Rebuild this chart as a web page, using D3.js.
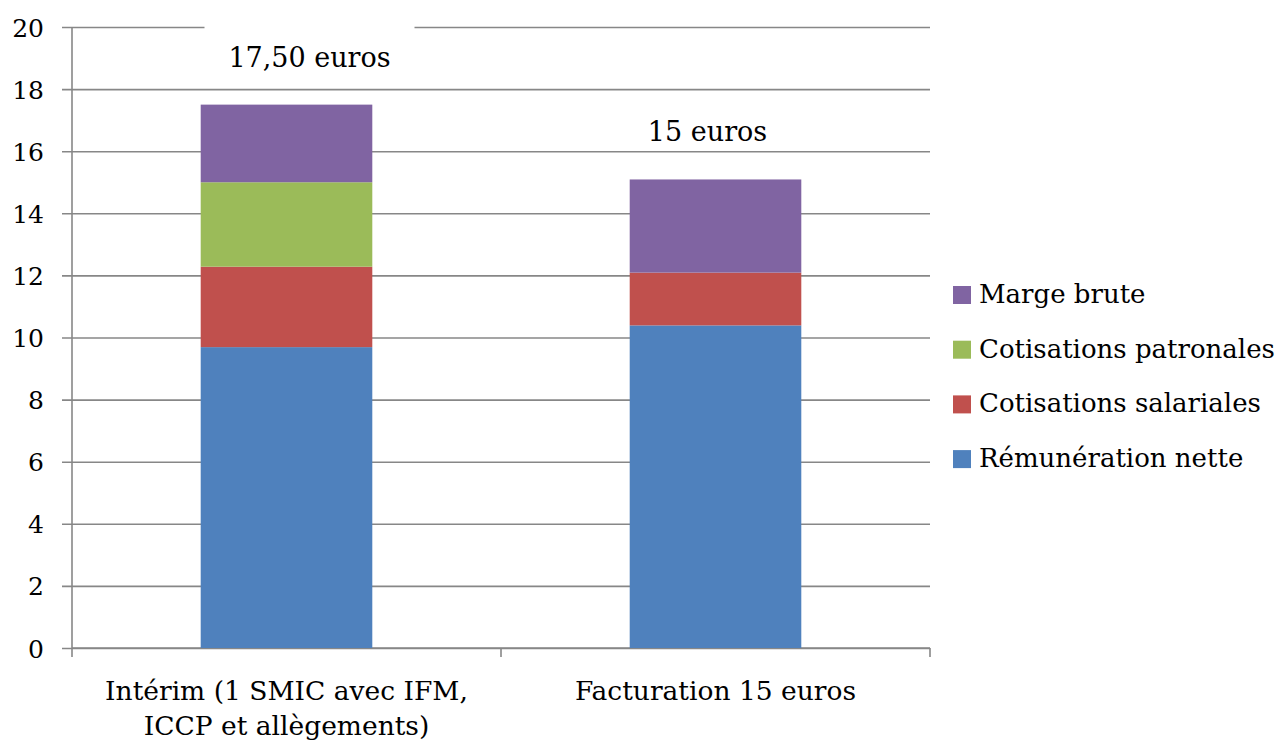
<!DOCTYPE html>
<html>
<head>
<meta charset="utf-8">
<script src="https://cdn.jsdelivr.net/npm/d3@7"></script>
<style>
  body { margin: 0; background: #fff; }
</style>
</head>
<body>
<script>
// chart data
var categories = ["Intérim (1 SMIC avec IFM,|ICCP et allègements)", "Facturation 15 euros"];
var seriesNames = ["Rémunération nette", "Cotisations salariales", "Cotisations patronales", "Marge brute"];
var seriesColors = ["#4F81BD", "#C0504D", "#9BBB59", "#8064A2"];
var nette = [9.69, 10.39];
var salariales = [2.59, 1.70];
var patronales = [2.72, 0];
var marge = [2.50, 3.00];
var totalLabels = ["17,50 euros", "15 euros"];
var yTicks = [0, 2, 4, 6, 8, 10, 12, 14, 16, 18, 20];

var FONT = "'DejaVu Serif', serif";

var margin = {top: 27, left: 72},
    width = 858,
    height = 621;

var rows = categories.map(function(c, i) {
  return {cat: c, nette: nette[i], salariales: salariales[i], patronales: patronales[i], marge: marge[i]};
});
var keys = ["nette", "salariales", "patronales", "marge"];
var stacked = d3.stack().keys(keys)(rows);

var x = d3.scaleBand()
    .domain(categories)
    .range([0, width])
    .paddingInner(0.6)
    .paddingOuter(0.3);

var y = d3.scaleLinear()
    .domain([0, 20])
    .range([height, 0]);

var svg = d3.select("body").append("svg")
    .attr("width", 1282)
    .attr("height", 742)
    .style("font-family", FONT);

var g = svg.append("g")
    .attr("transform", "translate(" + margin.left + "," + margin.top + ")");

// gridlines + y axis
var yAxis = g.append("g")
    .call(d3.axisLeft(y).tickValues(yTicks).tickSize(-width).tickSizeOuter(0).tickPadding(0));
yAxis.attr("font-family", FONT);
yAxis.select(".domain").remove();
yAxis.selectAll(".tick line")
    .attr("x1", -10)
    .attr("stroke", "#878787")
    .attr("stroke-width", 1.6);
yAxis.selectAll(".tick text")
    .attr("x", -28)
    .attr("fill", "#000")
    .attr("font-size", 25)
    .attr("dy", "0.36em");

// vertical axis line
g.append("line")
    .attr("x1", 0).attr("x2", 0)
    .attr("y1", 0).attr("y2", height)
    .attr("stroke", "#878787")
    .attr("stroke-width", 1.6);

// x axis
var xAxis = g.append("g")
    .attr("transform", "translate(0," + height + ")");
xAxis.append("line")
    .attr("x1", 0).attr("x2", width)
    .attr("stroke", "#878787")
    .attr("stroke-width", 1.6);
var xTickPos = [0].concat(categories.map(function(c) { return x(c) + x.bandwidth() / 2 + x.step() / 2; }));
xAxis.selectAll(".xt")
    .data(xTickPos)
    .enter().append("line")
    .attr("x1", function(d) { return d; })
    .attr("x2", function(d) { return d; })
    .attr("y1", 0).attr("y2", 9)
    .attr("stroke", "#878787")
    .attr("stroke-width", 1.6);

xAxis.selectAll(".xl")
    .data(categories)
    .enter().append("text")
    .attr("text-anchor", "middle")
    .attr("font-size", 26.5)
    .attr("transform", function(d) { return "translate(" + (x(d) + x.bandwidth() / 2) + ",0)"; })
    .each(function(d) {
      var t = d3.select(this);
      d.split("|").forEach(function(line, i) {
        t.append("tspan").attr("x", 0).attr("y", 52 + i * 35).text(line);
      });
    });

// bars
g.selectAll(".serie")
    .data(stacked)
    .enter().append("g")
    .attr("fill", function(d, i) { return seriesColors[i]; })
    .selectAll("rect")
    .data(function(d) { return d; })
    .enter().append("rect")
    .filter(function(d) { return d[1] - d[0] > 0; })
    .attr("x", function(d) { return x(d.data.cat); })
    .attr("width", x.bandwidth())
    .attr("y", function(d) { return y(d[1]); })
    .attr("height", function(d) { return y(d[0]) - y(d[1]); });

// total labels
var totals = rows.map(function(r) { return r.nette + r.salariales + r.patronales + r.marge; });
var labelShift = [23, -8];
var lab = g.selectAll(".tot")
    .data(categories)
    .enter().append("g")
    .attr("transform", function(d, i) {
      return "translate(" + (x(d) + x.bandwidth() / 2 + labelShift[i]) + "," + (y(totals[i]) - 38) + ")";
    });
lab.filter(function(d, i) { return i === 0; })
    .append("rect")
    .attr("x", -105).attr("y", -45)
    .attr("width", 210).attr("height", 60)
    .attr("fill", "#fff");
lab.append("text")
    .attr("text-anchor", "middle")
    .attr("font-size", 27)
    .text(function(d, i) { return totalLabels[i]; });

// legend
var legend = svg.append("g")
    .attr("transform", "translate(953,303)");
var legItems = seriesNames.slice().reverse();
var legColors = seriesColors.slice().reverse();
var li = legend.selectAll(".li")
    .data(legItems)
    .enter().append("g")
    .attr("transform", function(d, i) { return "translate(0," + (i * 54.7) + ")"; });
li.append("rect")
    .attr("x", 0).attr("y", -17)
    .attr("width", 18).attr("height", 18)
    .attr("fill", function(d, i) { return legColors[i]; });
li.append("text")
    .attr("x", 26)
    .attr("font-size", 26)
    .text(function(d) { return d; });
</script>
</body>
</html>
